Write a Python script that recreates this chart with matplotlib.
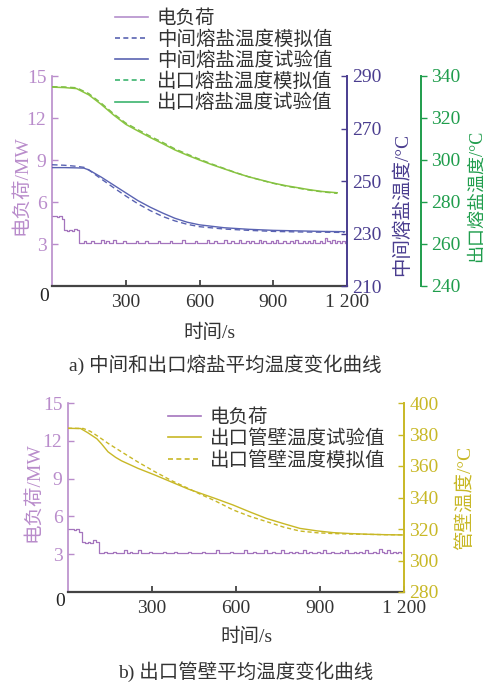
import numpy as np
import matplotlib.pyplot as plt
from matplotlib.lines import Line2D

plt.rcParams['font.family'] = ['Liberation Serif', 'Noto Sans CJK SC']
plt.rcParams['font.size'] = 14

# --- data ---
t_load = np.arange(0, 1200, 10)
load = [5.0, 5.0, 4.9, 5.0, 4.8, 4.0, 3.9, 4.0, 3.9, 4.1, 4.0, 3.1,
        3.1, 3.2, 3.1, 3.1, 3.2, 3.1, 3.1, 3.1, 3.3, 3.1, 3.2, 3.1,
        3.1, 3.3, 3.1, 3.1, 3.1, 3.2, 3.1, 3.1, 3.1, 3.1, 3.2, 3.1,
        3.1, 3.1, 3.2, 3.1, 3.1, 3.1, 3.1, 3.2, 3.1, 3.1, 3.1, 3.1,
        3.2, 3.1, 3.1, 3.1, 3.1, 3.3, 3.1, 3.1, 3.1, 3.1, 3.2, 3.1,
        3.1, 3.1, 3.1, 3.3, 3.1, 3.1, 3.2, 3.1, 3.1, 3.1, 3.3, 3.1,
        3.1, 3.2, 3.1, 3.1, 3.3, 3.1, 3.1, 3.2, 3.1, 3.2, 3.1, 3.1,
        3.3, 3.1, 3.2, 3.1, 3.1, 3.2, 3.1, 3.3, 3.1, 3.1, 3.2, 3.1,
        3.1, 3.2, 3.1, 3.3, 3.1, 3.1, 3.2, 3.1, 3.2, 3.1, 3.3, 3.1,
        3.1, 3.2, 3.1, 3.4, 3.2, 3.1, 3.3, 3.1, 3.2, 3.1, 3.2, 3.1]

# intermediate molten salt temperature (top chart, purple-blue axis)
t_mid = [0, 50, 100, 130, 150, 200, 250, 300, 350, 400, 450, 500, 550,
         600, 700, 800, 900, 1000, 1100, 1190]
mid_exp = [255.1, 255.1, 255.0, 254.9, 254.2, 251.5, 248.5, 245.5, 242.5,
           240.0, 237.8, 235.8, 234.3, 233.3, 232.2, 231.6, 231.2, 231.0,
           230.8, 230.7]
mid_sim = [256.2, 256.0, 255.6, 255.2, 254.2, 250.8, 247.5, 244.3, 241.3,
           238.7, 236.5, 234.8, 233.5, 232.6, 231.7, 231.2, 230.8, 230.6,
           230.5, 230.4]

# outlet molten salt temperature (top chart, green axis)
t_out = [0, 50, 100, 150, 200, 250, 300, 350, 400, 450, 500, 550, 600, 650,
         700, 750, 800, 850, 900, 950, 1000, 1050, 1100, 1160]
out_exp = [334.7, 334.5, 334.0, 331.0, 326.5, 321.5, 317.0, 313.8, 310.7,
           307.8, 304.8, 302.3, 300.0, 297.8, 295.8, 293.8, 292.0, 290.5,
           289.0, 287.8, 286.8, 285.8, 285.0, 284.4]
out_sim = [334.9, 334.8, 334.4, 331.6, 327.1, 322.1, 317.6, 314.4, 311.3,
           308.4, 305.3, 302.8, 300.4, 298.1, 296.0, 293.9, 292.0, 290.4,
           288.9, 287.6, 286.6, 285.6, 284.8, 284.1]

# outlet tube wall temperature (bottom chart)
t_wall_exp = [0, 45, 70, 103, 120, 143, 170, 191, 250, 310, 370, 429, 471,
              524, 590, 650, 709, 770, 828, 890, 947, 1010, 1066, 1130, 1200]
wall_exp = [383.9, 383.8, 381.2, 377.3, 374.0, 369.0, 365.5, 363.3, 358.5,
            354.3, 349.8, 345.4, 342.8, 339.5, 335.2, 330.8, 326.7, 323.4,
            320.4, 318.8, 317.7, 317.1, 316.7, 316.4, 316.2]
t_wall_sim = [0, 55, 80, 110, 143, 191, 250, 310, 370, 429, 471, 524, 590,
              650, 709, 770, 828, 890, 947, 1010, 1066, 1130, 1200]
wall_sim = [384.0, 383.8, 382.0, 378.5, 374.4, 369.0, 362.5, 356.4, 350.7,
            345.8, 342.2, 338.0, 332.1, 328.0, 324.7, 321.2, 318.7, 317.6,
            317.1, 316.8, 316.6, 316.4, 316.3]

x_ticks = [300, 600, 900, 1200]
x_labels = ['300', '600', '900', '1 200']

# colours
c_load_ax = '#b98ccb'
c_load = '#a474bd'
c_mid_ax = '#4a3d8f'
c_mid = '#5a63b2'
c_out_ax = '#1f9d4c'
c_out = '#8dc641'
c_out_leg = '#3cb46e'
c_wall = '#c8b826'
c_text = '#333333'

fig = plt.figure(figsize=(4.86, 6.82), dpi=100)
fig.patch.set_facecolor('white')


def style_base(ax, yl_color):
    ax.set_xlim(0, 1200)
    ax.set_ylim(0, 15)
    ax.set_yticks([3, 6, 9, 12, 15])
    ax.set_xticks(x_ticks)
    ax.set_xticklabels(x_labels)
    ax.tick_params(axis='x', direction='in', length=4, width=1.2,
                   colors='#333333', pad=6)
    ax.tick_params(axis='y', direction='in', length=4, width=1,
                   colors=yl_color, pad=4)
    for s in ['top', 'right']:
        ax.spines[s].set_visible(False)
    ax.spines['left'].set_color(c_load_ax)
    ax.spines['left'].set_linewidth(1.2)
    ax.spines['bottom'].set_color('#444444')
    ax.spines['bottom'].set_linewidth(1.6)
    ax.text(-0.01, -0.05, '0', transform=ax.transAxes, ha='right',
            va='center', color='#222222', fontsize=14)


# ---------------- a) ----------------
ax1 = fig.add_axes([52/486, 1-286/682, 295/486, 210/682])
style_base(ax1, c_load_ax)
ax1.plot(t_load, load, color=c_load, lw=0.9, drawstyle='steps-post')
ax1.set_ylabel('电负荷/MW', color=c_load_ax)
ax1.yaxis.set_label_coords(-0.075, 0.48)
ax1.set_xlabel('时间/s', color=c_text)
ax1.xaxis.set_label_coords(0.535, -0.18)

ax1b = ax1.twinx()
ax1b.set_ylim(210, 290)
ax1b.set_yticks([210, 230, 250, 270, 290])
ax1b.plot(t_mid, mid_sim, color=c_mid, lw=1.0, ls=(0, (4, 2.5)))
ax1b.plot(t_mid, mid_exp, color=c_mid, lw=1.0)
for s in ['top', 'left', 'bottom']:
    ax1b.spines[s].set_visible(False)
ax1b.spines['right'].set_color(c_mid_ax)
ax1b.spines['right'].set_linewidth(1.4)
ax1b.tick_params(axis='y', direction='in', length=4, width=1,
                 colors=c_mid_ax, pad=4)
ax1b.set_ylabel('中间熔盐温度/°C', color=c_mid_ax)
ax1b.yaxis.set_label_coords(1.155, 0.39)

ax1c = ax1.twinx()
ax1c.set_ylim(240, 340)
ax1c.set_yticks([240, 260, 280, 300, 320, 340])
ax1c.plot(t_out, out_exp, color=c_out, lw=1.1)
ax1c.plot(t_out, out_sim, color='#7fbf45', lw=1.0, ls=(0, (4, 2.5)))
for s in ['top', 'left', 'bottom']:
    ax1c.spines[s].set_visible(False)
ax1c.spines['right'].set_position(('axes', 1.251))
ax1c.spines['right'].set_color(c_out_ax)
ax1c.spines['right'].set_linewidth(1.4)
ax1c.tick_params(axis='y', direction='out', length=4, width=1,
                 colors=c_out_ax, pad=3)
ax1c.set_ylabel('出口熔盐温度/°C', color=c_out_ax, fontsize=13)
ax1c.yaxis.set_label_coords(1.41, 0.43)

handles_a = [Line2D([], [], color='#b48fcc', lw=1.2),
             Line2D([], [], color=c_mid, lw=1.2, ls=(0, (3, 2))),
             Line2D([], [], color=c_mid, lw=1.2),
             Line2D([], [], color=c_out_leg, lw=1.2, ls=(0, (3, 2))),
             Line2D([], [], color=c_out_leg, lw=1.2)]
labels_a = ['电负荷', '中间熔盐温度模拟值', '中间熔盐温度试验值',
            '出口熔盐温度模拟值', '出口熔盐温度试验值']
leg_a = fig.legend(handles_a, labels_a, loc='upper left',
                   bbox_to_anchor=(115/486, 1-10/682), frameon=False,
                   borderpad=0, borderaxespad=0, labelspacing=0.14,
                   handlelength=1.7, handletextpad=0.45, fontsize=14)
for tx in leg_a.get_texts():
    tx.set_color(c_text)

fig.text(225/486, 1-365/682, 'a) 中间和出口熔盐平均温度变化曲线',
         ha='center', va='center', color=c_text, fontsize=14)

# ---------------- b) ----------------
ax2 = fig.add_axes([68/486, 1-592/682, 336/486, 189/682])
style_base(ax2, c_load_ax)
ax2.plot(t_load, load, color=c_load, lw=0.9, drawstyle='steps-post')
ax2.set_ylabel('电负荷/MW', color=c_load_ax)
ax2.yaxis.set_label_coords(-0.077, 0.53)
ax2.set_xlabel('时间/s', color=c_text)
ax2.xaxis.set_label_coords(0.53, -0.19)

ax2b = ax2.twinx()
ax2b.set_ylim(280, 400)
ax2b.set_yticks([280, 300, 320, 340, 360, 380, 400])
ax2b.plot(t_wall_exp, wall_exp, color=c_wall, lw=1.0)
ax2b.plot(t_wall_sim, wall_sim, color=c_wall, lw=1.0, ls=(0, (3, 2)))
for s in ['top', 'left', 'bottom']:
    ax2b.spines[s].set_visible(False)
ax2b.spines['right'].set_color(c_wall)
ax2b.spines['right'].set_linewidth(1.4)
ax2b.tick_params(axis='y', direction='in', length=4, width=1,
                 colors=c_wall, pad=4)
ax2b.set_ylabel('管壁温度/°C', color=c_wall)
ax2b.yaxis.set_label_coords(1.152, 0.5)

handles_b = [Line2D([], [], color=c_load, lw=1.2),
             Line2D([], [], color=c_wall, lw=1.2),
             Line2D([], [], color=c_wall, lw=1.2, ls=(0, (3, 2)))]
labels_b = ['电负荷', '出口管壁温度试验值', '出口管壁温度模拟值']
leg_b = fig.legend(handles_b, labels_b, loc='upper left',
                   bbox_to_anchor=(168/486, 1-409/682), frameon=False,
                   borderpad=0, borderaxespad=0, labelspacing=0.14,
                   handlelength=1.7, handletextpad=0.45, fontsize=14)
for tx in leg_b.get_texts():
    tx.set_color(c_text)

fig.text(246/486, 1-672/682, 'b) 出口管壁平均温度变化曲线',
         ha='center', va='center', color=c_text, fontsize=14)

fig.savefig('out.png', dpi=100, facecolor='white')
